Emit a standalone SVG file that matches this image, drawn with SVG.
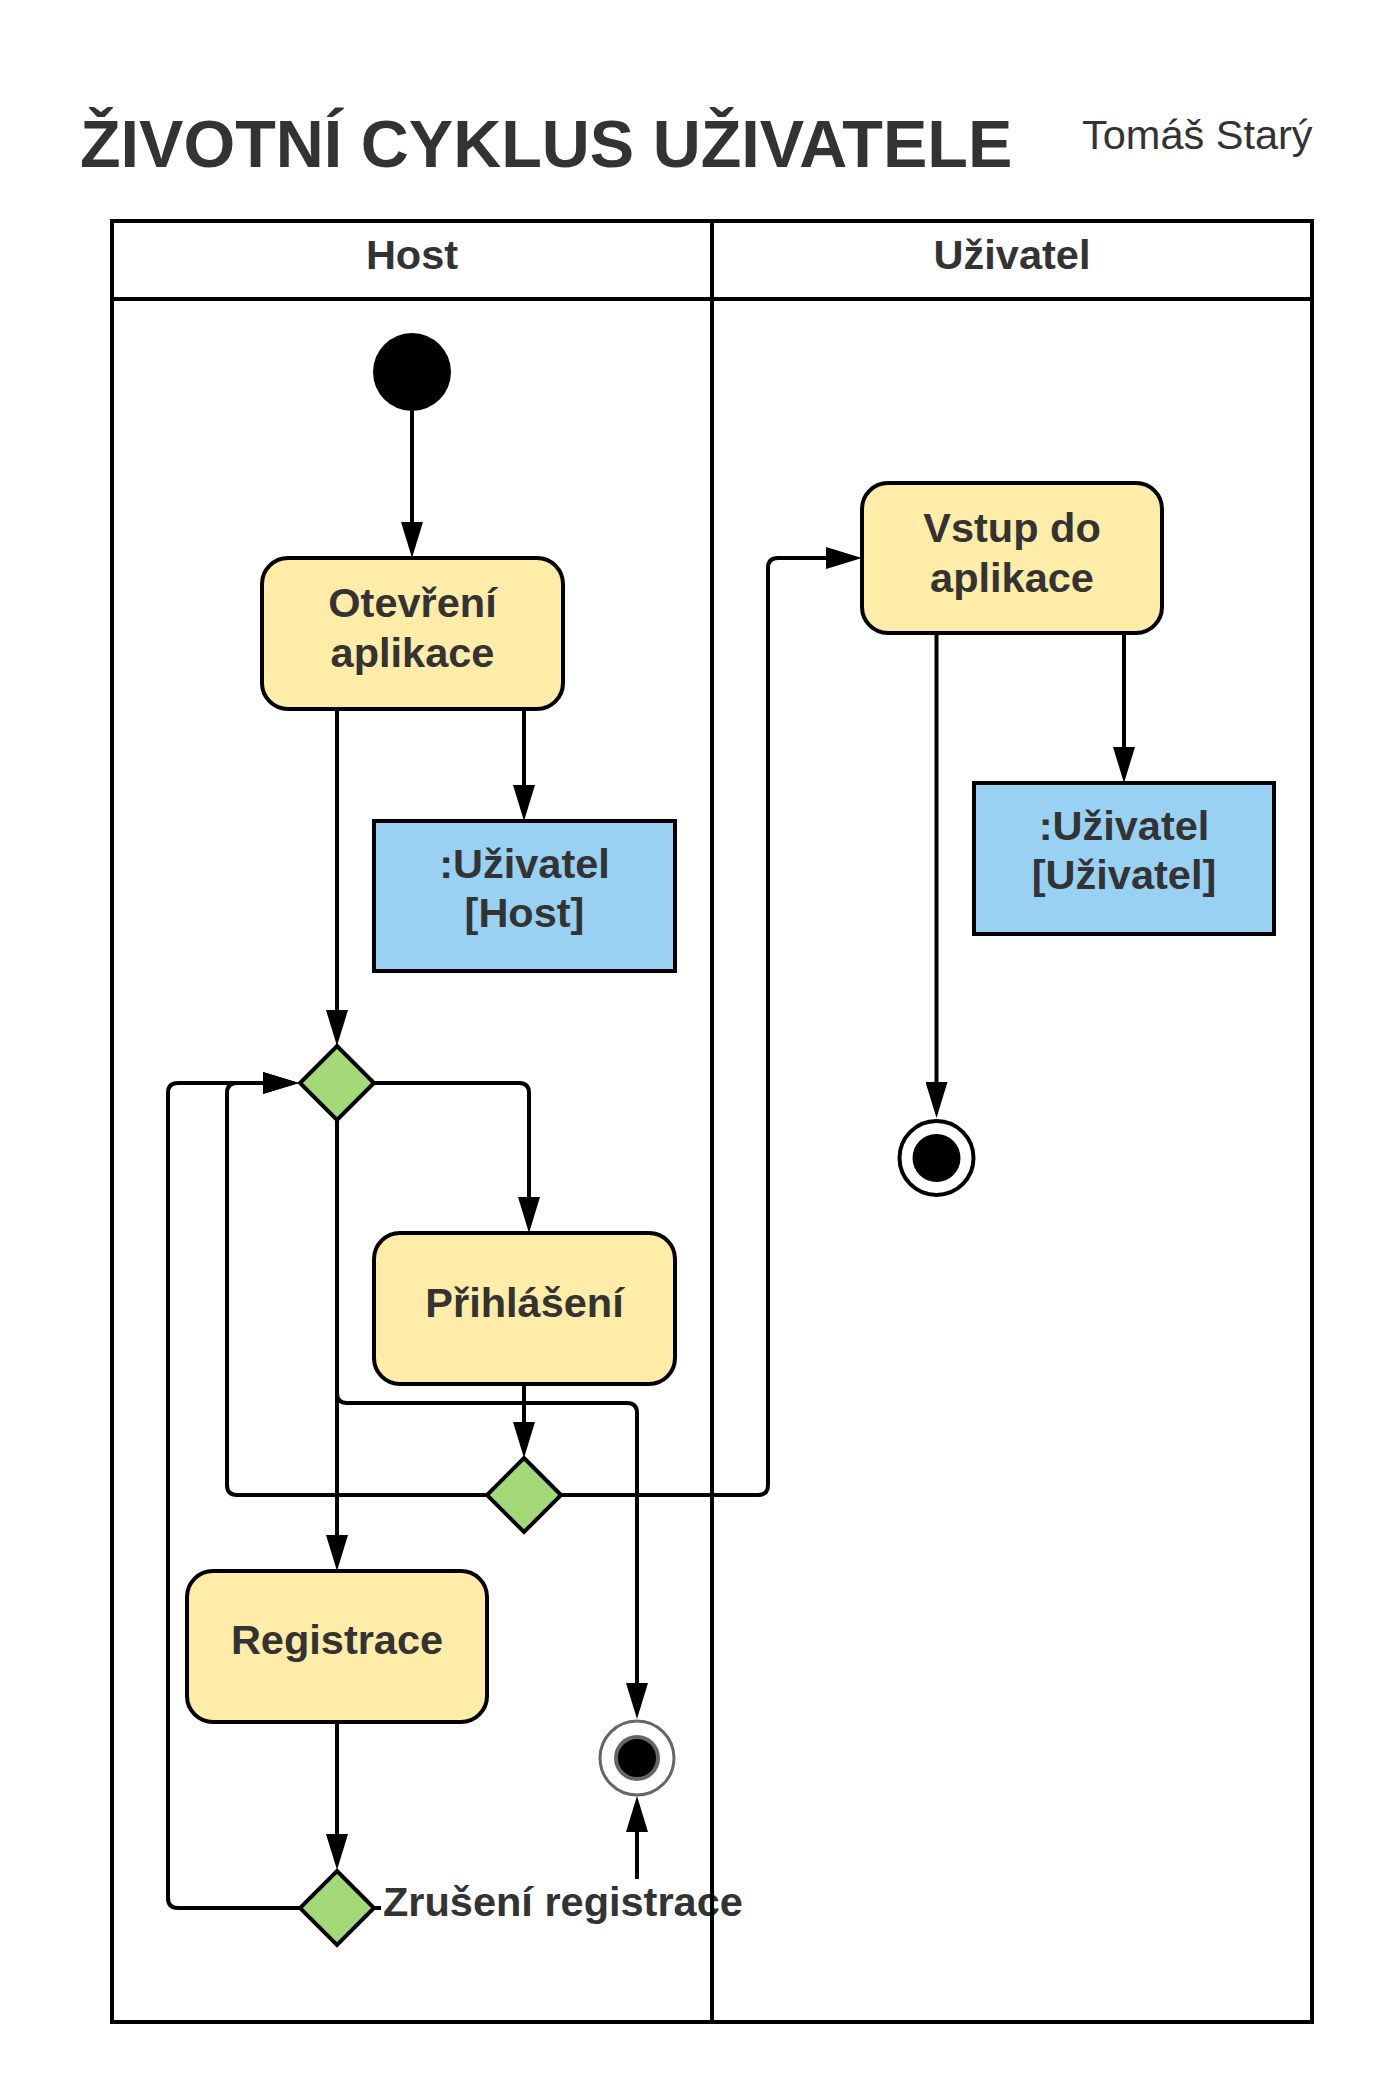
<svg xmlns="http://www.w3.org/2000/svg" width="1388" height="2096" viewBox="0 0 1388 2096">
<style>
.t{font-family:"Liberation Sans",Arial,sans-serif;fill:#333333;text-anchor:middle}
.b{font-weight:bold;font-size:41.5px}
.act{fill:#ffeca9;stroke:#000;stroke-width:4}
.obj{fill:#99d1f3;stroke:#000;stroke-width:4}
.dec{fill:#a3d977;stroke:#000;stroke-width:4;stroke-linejoin:miter}
.e{fill:none;stroke:#000;stroke-width:4}
.lane{fill:none;stroke:#000;stroke-width:4}
</style>
<defs>
<marker id="arr" viewBox="0 0 36 22" refX="26" refY="11" markerWidth="36" markerHeight="22" orient="auto" markerUnits="userSpaceOnUse">
<path d="M0,0 L36,11 L0,22 Z" fill="#000"/>
</marker>
</defs>
<rect width="1388" height="2096" fill="#ffffff"/>
<g id="title">
<text class="t" x="80" y="167" style="text-anchor:start;font-weight:bold;font-size:66.5px">ŽIVOTNÍ CYKLUS UŽIVATELE</text>
<text class="t" x="1082" y="149" style="text-anchor:start;font-size:41.5px">Tomáš Starý</text>
</g>
<g id="lane-headers">
<text class="t b" x="412" y="269">Host</text>
<text class="t b" x="1012" y="269">Uživatel</text>
</g>
<g id="connectors">
<path class="e" d="M412 411 V548" marker-end="url(#arr)"/>
<path class="e" d="M337 709 V1036" marker-end="url(#arr)"/>
<path class="e" d="M524 709 V811" marker-end="url(#arr)"/>
<path class="e" d="M374 1083 H519 Q529 1083 529 1093 V1223" marker-end="url(#arr)"/>
<path class="e" d="M524 1384 V1448" marker-end="url(#arr)"/>
<path class="e" d="M487 1495 H237 Q227 1495 227 1485 V1093 Q227 1083 237 1083 H289" marker-end="url(#arr)"/>
<path class="e" d="M561 1495 H758 Q768 1495 768 1485 V568 Q768 558 778 558 H852" marker-end="url(#arr)"/>
<path class="e" d="M337 1120 V1561" marker-end="url(#arr)"/>
<path class="e" d="M337 1120 V1393 Q337 1403 347 1403 H627 Q637 1403 637 1413 V1709" marker-end="url(#arr)"/>
<path class="e" d="M337 1722 V1860" marker-end="url(#arr)"/>
<path class="e" d="M300 1908 H178 Q168 1908 168 1898 V1093 Q168 1083 178 1083 H289" marker-end="url(#arr)"/>
<path class="e" d="M374 1908 H627 Q637 1908 637 1898 V1806" marker-end="url(#arr)"/>
<path class="e" d="M936.5 633 V1108" marker-end="url(#arr)"/>
<path class="e" d="M1124 633 V773" marker-end="url(#arr)"/>
<rect x="381" y="1879" width="372" height="50" fill="#ffffff"/>
<text class="t b" x="383" y="1916" style="text-anchor:start">Zrušení registrace</text>
</g>
<g id="start">
<circle cx="412" cy="372" r="39" fill="#000"/>
</g>
<g id="otevreni">
<rect class="act" x="262" y="558" width="301" height="151" rx="26"/>
<text class="t b" x="412.5" y="617">Otevření</text>
<text class="t b" x="412.5" y="667">aplikace</text>
</g>
<g id="obj-host">
<rect class="obj" x="374" y="821" width="301" height="150"/>
<text class="t b" x="524.5" y="878">:Uživatel</text>
<text class="t b" x="524.5" y="927">[Host]</text>
</g>
<g id="decision1">
<polygon class="dec" points="337,1046 374,1083 337,1120 300,1083"/>
</g>
<g id="prihlaseni">
<rect class="act" x="374" y="1233" width="301" height="151" rx="26"/>
<text class="t b" x="524.5" y="1317">Přihlášení</text>
</g>
<g id="decision2">
<polygon class="dec" points="524,1458 561,1495 524,1532 487,1495"/>
</g>
<g id="registrace">
<rect class="act" x="187" y="1571" width="300" height="151" rx="26"/>
<text class="t b" x="337" y="1654">Registrace</text>
</g>
<g id="decision3">
<polygon class="dec" points="337,1871 374,1908 337,1945 300,1908"/>
</g>
<g id="end-host">
<circle cx="637" cy="1758" r="37" fill="#ffffff" stroke="#666666" stroke-width="3"/>
<circle cx="637" cy="1758" r="21" fill="#000" stroke="#666666" stroke-width="4"/>
</g>
<g id="vstup">
<rect class="act" x="862" y="483" width="300" height="150" rx="26"/>
<text class="t b" x="1012" y="542">Vstup do</text>
<text class="t b" x="1012" y="592">aplikace</text>
</g>
<g id="obj-uzivatel">
<rect class="obj" x="974" y="783" width="300" height="151"/>
<text class="t b" x="1124" y="840">:Uživatel</text>
<text class="t b" x="1124" y="889">[Uživatel]</text>
</g>
<g id="end-uzivatel">
<circle cx="936.5" cy="1158" r="37" fill="#ffffff" stroke="#000" stroke-width="4"/>
<circle cx="936.5" cy="1158" r="24" fill="#000"/>
</g>
<g id="swimlanes">
<rect class="lane" x="112" y="221" width="1200" height="1801"/>
<line class="lane" x1="112" y1="299" x2="1312" y2="299"/>
<line class="lane" x1="712" y1="221" x2="712" y2="2022"/>
</g>
</svg>
